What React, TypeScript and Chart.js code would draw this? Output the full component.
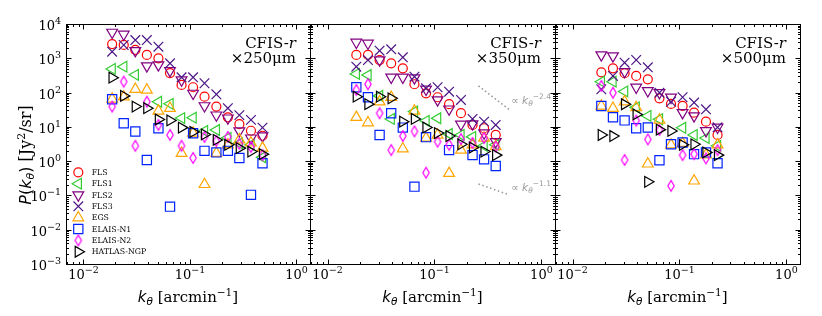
import React, { useEffect, useRef } from 'react';
import { Chart, registerables } from 'chart.js';
import { drawPoint } from 'chart.js/helpers';

Chart.register(...registerables);

// ---------------- data ----------------
const kBins = [0.0186, 0.0239, 0.0307, 0.0394, 0.0506, 0.0650, 0.0834, 0.107, 0.137, 0.177, 0.227, 0.291, 0.374, 0.480];

const seriesNames = ['FLS', 'FLS1', 'FLS2', 'FLS3', 'EGS', 'ELAIS-N1', 'ELAIS-N2', 'HATLAS-NGP'];

// 250 micron
const FLS_250 = [2600, 2450, 1750, 1250, 1000, 370, 167, 143, 76, 39, 19, 12, 7.7, 5.5];
const FLS1_250 = [490, 570, 330, null, 54, 47, 18, 18.5, 7.6, 8.1, 4.8, 3.3, 3.0, 1.3];
const FLS2_250 = [5700, 5000, 1670, 600, 640, 435, 233, 95, 41, 22, 18, 7.6, 4.7, 5.4];
const FLS3_250 = [1560, 2440, 3400, 3400, 2180, 714, 279, 279, 187, 89, 35, 22, 16, 9.5];
const EGS_250 = [65, 75, 125, 119, 29, 35, 1.7, 6.6, 0.21, 1.7, 3.0, 4.2, 3.4, 2.4];
const N1_250 = [64, 12.7, 7.3, 1.08, 9.1, 0.047, null, 6.5, 2.0, 1.8, 2.0, 1.24, 0.104, 0.87];
const N2_250 = [39, 208, 2.8, 54, 11.4, 5.8, 2.8, 1.24, 5.1, 3.9, 5.1, 3.2, 2.6, 1.5];
const HATLAS_250 = [272, 80, 39, 35, 16.4, 15.4, 9.5, 7.1, 6.0, 4.15, 3.0, 2.4, 1.9, 1.6];

// 350 micron
const FLS_350 = [1250, 1250, 890, 714, 511, 175, 95, 73, 46, 25, 11.4, 9.1, 5.8];
const FLS1_350 = [350, 326, 80, 17, null, 28, 15, 17.8, 6.2, 5.8, 5.1, 2.8, 3.0];
const FLS2_350 = [2930, 2740, 890, 280, 280, 267, 125, 61, 33, 11.9, 12.2, 6.6, 3.7];
const FLS3_350 = [570, 890, 1670, 1830, 1070, 291, 133, 143, 106, 61, 17, 14.2, 11.4];
const EGS_350 = [19, 13.2, 54, 73, 2.3, 29, 4.7, 5.8, 0.44, 2.1, 3.0, 4.7, 2.65];
const N1_350 = [143, 73, 5.8, 25, 9.5, 0.18, 5.0, null, 2.1, null, 1.5, 1.13, 0.72];
const N2_350 = [119, 175, 25, 2.1, 5.4, 7.4, 0.46, 3.7, 3.0, 4.4, 3.4, 4.7, 2.65];
const HATLAS_350 = [76, 46, 76, 68, 14.2, 17, 9.6, 6.6, 5.4, 3.1, 2.5, 1.9, 1.5];

// 500 micron
const FLS_500 = [390, 510, 366, 305, 244, 68, 46.5, 40.7, 26, 14.2, 5.8];
const FLS1_500 = [208, 208, 108, 37, 20.8, 16.7, null, 9.4, 5.8, 4.7, 2.8];
const FLS2_500 = [1250, 1170, 406, 143, 113, 99, 73, 26, 20.8, 7.7, 9.7];
const FLS3_500 = [125, 305, 745, 891, 547, 99, 54, 73, 51, 32.6, 9.7];
const EGS_500 = [40.7, 34.9, 54, 36.8, 0.83, 15.9, 3.0, 3.3, 0.265, 1.52, 3.0];
const N1_500 = [40.7, 19, 15.4, 9.1, 9.6, 1.06, 3.1, 3.5, 1.6, 1.8, 0.87];
const N2_500 = [156, 99, 1.08, 15.2, 4.3, 8.1, 0.19, 1.5, 1.6, 1.2, 2.1];
const HATLAS_500 = [5.8, 5.4, 45.6, 23, 0.25, 8.3, 7.6, 3.0, 3.1, 1.8, 1.5];

// power-law guide lines (panel 350)
const guideX = [0.258, 0.50];
const guideSteepY = [156, 32];
const guideShallowY = [0.216, 0.104];
const guideSteepLabel = '−2.4';
const guideShallowLabel = '−1.1';

const panelBands = ['×250μm', '×350μm', '×500μm'];
const panelSeries = [
  [FLS_250, FLS1_250, FLS2_250, FLS3_250, EGS_250, N1_250, N2_250, HATLAS_250],
  [FLS_350, FLS1_350, FLS2_350, FLS3_350, EGS_350, N1_350, N2_350, HATLAS_350],
  [FLS_500, FLS1_500, FLS2_500, FLS3_500, EGS_500, N1_500, N2_500, HATLAS_500],
];

const xTickValues = [0.01, 0.1, 1];
const yTickValues = [1e-3, 1e-2, 1e-1, 1, 10, 100, 1000, 10000];
const X_MIN = 0.00686;
const X_MAX = 1.34;
const Y_MIN = 1e-3;
const Y_MAX = 1e4;

// ---------------- styling ----------------
const W = 822;
const H = 316;
const panelEdges = [[66, 310], [310, 555], [555, 800]];
const TOP = 24;
const XAXIS_H = 52;

function makeThinDiamond(color: string) {
  const c = document.createElement('canvas');
  c.width = 10;
  c.height = 14;
  const g = c.getContext('2d')!;
  g.strokeStyle = color;
  g.lineWidth = 1.2;
  g.beginPath();
  g.moveTo(5, 1.6);
  g.lineTo(8.2, 7);
  g.lineTo(5, 12.4);
  g.lineTo(1.8, 7);
  g.closePath();
  g.stroke();
  return c;
}

type MStyle = { color: string; pointStyle: any; radius: number; rotation: number };
function markerStyles(): MStyle[] {
  return [
    { color: '#ff0000', pointStyle: 'circle', radius: 4.5, rotation: 0 },
    { color: '#33cc33', pointStyle: 'triangle', radius: 6.2, rotation: -90 },
    { color: '#800080', pointStyle: 'triangle', radius: 6.2, rotation: 180 },
    { color: '#4b1585', pointStyle: 'crossRot', radius: 6.8, rotation: 0 },
    { color: '#ffa500', pointStyle: 'triangle', radius: 6.2, rotation: 0 },
    { color: '#0022ff', pointStyle: 'rect', radius: 6.5, rotation: 0 },
    { color: '#ff00ff', pointStyle: makeThinDiamond('#ff00ff'), radius: 5, rotation: 0 },
    { color: '#000000', pointStyle: 'triangle', radius: 6.2, rotation: 90 },
  ];
}

const exponentText = (v: number) => String(Math.round(Math.log10(v))).replace('-', '−');

type Run = { t: string; font: string; dy?: number };
function drawRuns(ctx: CanvasRenderingContext2D, runs: Run[], x: number, y: number, align: 'left' | 'center' | 'right') {
  let total = 0;
  const widths = runs.map((r) => {
    ctx.font = r.font;
    const w = ctx.measureText(r.t).width;
    total += w;
    return w;
  });
  let cx = align === 'left' ? x : align === 'center' ? x - total / 2 : x - total;
  ctx.textAlign = 'left';
  ctx.textBaseline = 'alphabetic';
  runs.forEach((r, i) => {
    ctx.font = r.font;
    ctx.fillText(r.t, cx, y + (r.dy || 0));
    cx += widths[i];
  });
}

const SERIF = 'DejaVu Serif';
const SANS = 'DejaVu Sans';
const decadeRuns = (v: number): Run[] => [
  { t: '10', font: `13px ${SERIF}` },
  { t: exponentText(v), font: `9.5px ${SERIF}`, dy: -6 },
];

function decorPlugin(idx: number, styles: MStyle[]) {
  return {
    id: 'decor' + idx,
    afterDraw(chart: any) {
      const { ctx, chartArea: a } = chart;
      const xs = chart.scales.x;
      const ys = chart.scales.y;
      const crisp = (v: number) => Math.round(v) + 0.5;
      const L = crisp(a.left), R = crisp(a.right), T = crisp(a.top), B = crisp(a.bottom);
      ctx.save();
      ctx.strokeStyle = '#000';
      ctx.lineWidth = 1;
      ctx.strokeRect(L, T, R - L, B - T);
      ctx.beginPath();
      for (let e = -3; e <= 1; e++) {
        for (let m = 1; m <= 9; m++) {
          const v = m * Math.pow(10, e);
          if (v >= X_MIN && v <= X_MAX) {
            const px = crisp(xs.getPixelForValue(v));
            const len = m === 1 ? 5 : 2.5;
            ctx.moveTo(px, B); ctx.lineTo(px, B - len);
            ctx.moveTo(px, T); ctx.lineTo(px, T + len);
          }
        }
      }
      for (let e = -3; e <= 4; e++) {
        for (let m = 1; m <= 9; m++) {
          const v = m * Math.pow(10, e);
          if (v >= Y_MIN && v <= Y_MAX) {
            const py = crisp(ys.getPixelForValue(v));
            const len = m === 1 ? 5 : 2.5;
            ctx.moveTo(L, py); ctx.lineTo(L + len, py);
            ctx.moveTo(R, py); ctx.lineTo(R - len, py);
          }
        }
      }
      ctx.stroke();

      ctx.fillStyle = '#000';
      // tick labels (from the scale's own ticks)
      xs.ticks.forEach((t: any) => {
        drawRuns(ctx, decadeRuns(t.value), xs.getPixelForValue(t.value), a.bottom + 14.5, 'center');
      });
      if (idx === 0) {
        ys.ticks.forEach((t: any) => {
          drawRuns(ctx, decadeRuns(t.value), a.left - 5, ys.getPixelForValue(t.value) + 6, 'right');
        });
      }

      // band label
      drawRuns(ctx, [{ t: 'CFIS-', font: `15px ${SERIF}` }, { t: 'r', font: `italic 15px ${SERIF}` }], a.right - 14, a.top + 24, 'right');
      drawRuns(ctx, [{ t: panelBands[idx], font: `15px ${SERIF}` }], a.right - 14, a.top + 39, 'right');

      // x label
      const cxm = (a.left + a.right) / 2;
      drawRuns(ctx, [
        { t: 'k', font: `italic 15px ${SANS}` },
        { t: 'θ', font: `italic 10.5px ${SANS}`, dy: 3 },
        { t: ' [arcmin', font: `15px ${SERIF}` },
        { t: '−1', font: `10.5px ${SERIF}`, dy: -6 },
        { t: ']', font: `15px ${SERIF}` },
      ], cxm, 302, 'center');

      if (idx === 0) {
        // y label
        ctx.save();
        ctx.translate(31, 155);
        ctx.rotate(-Math.PI / 2);
        drawRuns(ctx, [
          { t: 'P', font: `italic 16px ${SANS}` },
          { t: '(', font: `16px ${SANS}` },
          { t: 'k', font: `italic 16px ${SANS}` },
          { t: 'θ', font: `italic 11px ${SANS}`, dy: 3 },
          { t: ')', font: `16px ${SANS}` },
          { t: ' [Jy', font: `16px ${SERIF}` },
          { t: '2', font: `11px ${SERIF}`, dy: -6.5 },
          { t: '/sr]', font: `16px ${SERIF}` },
        ], 0, 0, 'center');
        ctx.restore();

        // legend
        const lx = a.left + 12.3;
        const ly0 = a.bottom - 91.7;
        const step = 11.35;
        styles.forEach((s, i) => {
          const yy = ly0 + i * step;
          ctx.save();
          ctx.strokeStyle = s.color;
          ctx.fillStyle = 'rgba(0,0,0,0)';
          ctx.lineWidth = 1.2;
          drawPoint(ctx, { pointStyle: s.pointStyle, rotation: s.rotation, radius: s.radius, borderWidth: 1.2 } as any, lx, yy);
          ctx.restore();
          ctx.fillStyle = '#000';
          ctx.font = `7.8px ${SERIF}`;
          ctx.textAlign = 'left';
          ctx.textBaseline = 'middle';
          ctx.fillText(seriesNames[i], a.left + 25.7, yy + 0.5);
        });
      }

      if (idx === 1) {
        ctx.fillStyle = '#999999';
        const ex = xs.getPixelForValue(guideX[1]) + 2;
        const guideRuns = (exp: string): Run[] => [
          { t: '∝ ', font: `10.5px ${SANS}` },
          { t: 'k', font: `italic 10.5px ${SANS}` },
          { t: 'θ', font: `italic 7.5px ${SANS}`, dy: 2 },
          { t: exp, font: `7.5px ${SANS}`, dy: -5 },
        ];
        drawRuns(ctx, guideRuns(guideSteepLabel), ex, ys.getPixelForValue(guideSteepY[1]) - 6, 'left');
        drawRuns(ctx, guideRuns(guideShallowLabel), ex, ys.getPixelForValue(guideShallowY[1]) - 3.5, 'left');
      }
      ctx.restore();
    },
  };
}

function buildConfig(idx: number, styles: MStyle[]) {
  const series = panelSeries[idx];
  const datasets: any[] = series.map((vals, si) => {
    const s = styles[si];
    const pts = vals
      .map((v, i) => (v == null ? null : { x: kBins[i], y: v }))
      .filter((p) => p !== null);
    return {
      label: seriesNames[si],
      data: pts,
      pointStyle: s.pointStyle,
      pointRadius: s.radius,
      pointRotation: s.rotation,
      borderColor: s.color,
      pointBorderColor: s.color,
      backgroundColor: 'rgba(0,0,0,0)',
      pointBackgroundColor: 'rgba(0,0,0,0)',
      pointBorderWidth: 1.2,
      showLine: false,
      order: -si,
    };
  });
  if (idx === 1) {
    [guideSteepY, guideShallowY].forEach((gy) => {
      datasets.push({
        type: 'line',
        data: guideX.map((x, i) => ({ x, y: gy[i] })),
        borderColor: '#999999',
        borderWidth: 1.6,
        borderDash: [1.5, 2.6],
        pointRadius: 0,
        showLine: true,
        fill: false,
        order: 5,
      });
    });
  }
  const [left, right] = panelEdges[idx];
  return {
    type: 'scatter',
    data: { datasets },
    options: {
      animation: false,
      responsive: false,
      devicePixelRatio: 1,
      events: [],
      layout: { padding: { left: idx === 0 ? 0 : left, right: W - right, top: TOP, bottom: 0 } },
      plugins: { legend: { display: false }, tooltip: { enabled: false } },
      scales: {
        x: {
          type: 'logarithmic',
          min: X_MIN,
          max: X_MAX,
          grid: { display: false },
          border: { display: false },
          afterBuildTicks: (s: any) => { s.ticks = xTickValues.map((v) => ({ value: v, major: true })); },
          afterFit: (s: any) => { s.height = XAXIS_H; },
          ticks: { display: false, autoSkip: false, maxRotation: 0 },
        },
        y: {
          type: 'logarithmic',
          min: Y_MIN,
          max: Y_MAX,
          grid: { display: false },
          border: { display: false },
          afterBuildTicks: (s: any) => { s.ticks = yTickValues.map((v) => ({ value: v, major: true })); },
          afterFit: (s: any) => { s.width = idx === 0 ? left : 0; },
          ticks: { display: false, autoSkip: false },
        },
      },
    },
    plugins: [decorPlugin(idx, styles)],
  };
}

export default function App() {
  const r0 = useRef<HTMLCanvasElement>(null);
  const r1 = useRef<HTMLCanvasElement>(null);
  const r2 = useRef<HTMLCanvasElement>(null);
  useEffect(() => {
    const styles = markerStyles();
    const canvases = [r0.current, r1.current, r2.current];
    const charts = canvases.map((c, i) => new Chart(c as HTMLCanvasElement, buildConfig(i, styles) as any));
    return () => charts.forEach((c) => c.destroy());
  }, []);
  const cs: React.CSSProperties = { position: 'absolute', left: 0, top: 0, width: W, height: H };
  return (
    <div style={{ position: 'fixed', left: 0, top: 0, width: W, height: H, background: '#fff' }}>
      <canvas ref={r0} width={W} height={H} style={cs} />
      <canvas ref={r1} width={W} height={H} style={cs} />
      <canvas ref={r2} width={W} height={H} style={cs} />
    </div>
  );
}
